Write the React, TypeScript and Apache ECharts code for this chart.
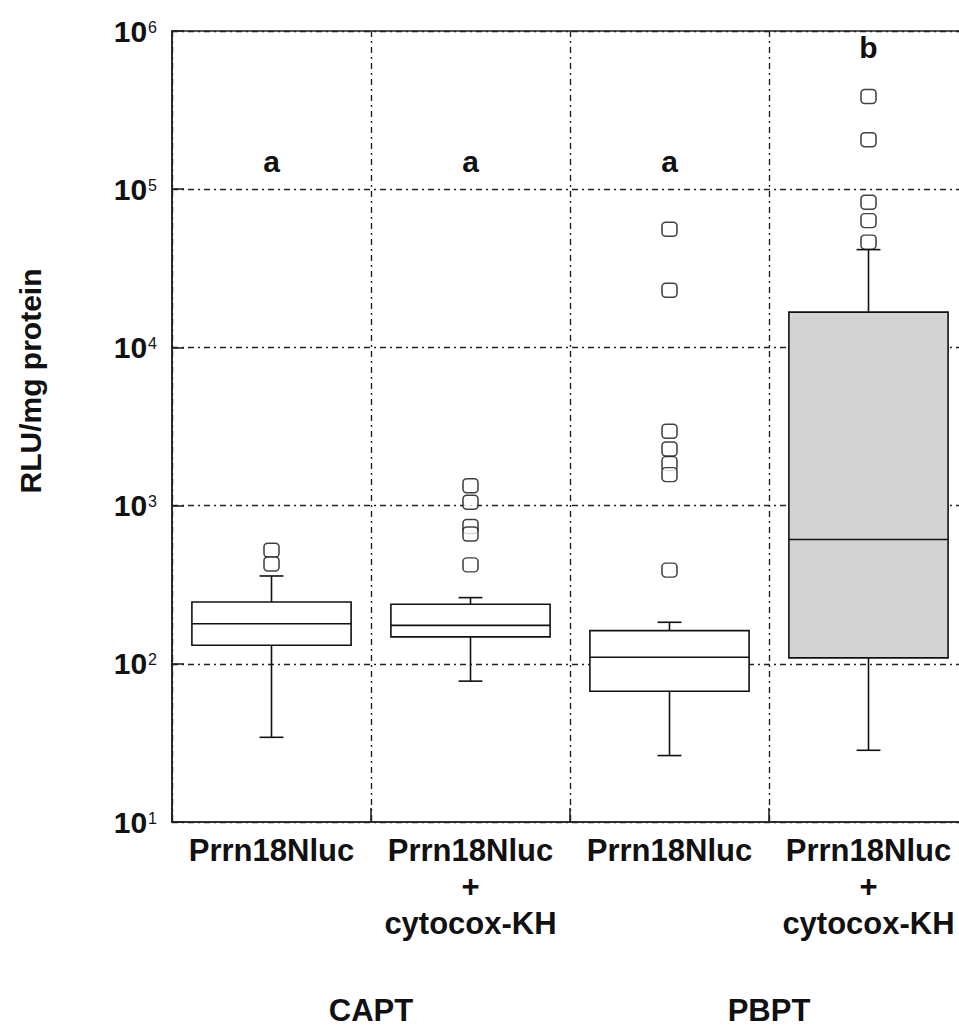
import React, { useEffect, useRef } from "react";
import * as echarts from "echarts";

const categories = [
  "Prrn18Nluc",
  "Prrn18Nluc\n+\ncytocox-KH",
  "Prrn18Nluc",
  "Prrn18Nluc\n+\ncytocox-KH",
];
const groups = ["CAPT", "PBPT"];
const lowWhisker = [34.3, 77.7, 26.3, 28.4];
const q1 = [131, 148, 67, 109];
const median = [179, 175, 110, 610];
const q3 = [246, 238, 162, 16700];
const highWhisker = [359, 262, 183, 41500];
const outliers = [
  [522, 427],
  [1334, 1049, 738, 661, 422],
  [55800, 22970, 2951, 2280, 1842, 1570, 391],
  [385000, 205600, 82800, 63300, 46300],
];
const boxFill = ["#ffffff", "#ffffff", "#ffffff", "#d3d3d3"];
const letters = ["a", "a", "a", "b"];
const letterPos = [150000, 150000, 150000, 789000];
const yTitle = "RLU/mg protein";

const FONT = "'Liberation Sans', Arial, Helvetica, sans-serif";
const INK = "#111111";

export default function App() {
  const ref = useRef<HTMLDivElement>(null);
  useEffect(() => {
    if (!ref.current) return;
    const chart = echarts.init(ref.current, null, { renderer: "svg" });
    const boxData = categories.map((_, i) => [
      i,
      lowWhisker[i],
      q1[i],
      median[i],
      q3[i],
      highWhisker[i],
    ]);
    const outlierData: number[][] = [];
    outliers.forEach((arr, i) => arr.forEach((v) => outlierData.push([i, v])));
    const letterData = letters.map((l, i) => ({ value: [i, letterPos[i]], name: l }));

    const option: any = {
      animation: false,
      grid: {
        left: 172,
        top: 31,
        width: 796,
        height: 797,
        show: true,
        borderColor: "#222",
        borderWidth: 1.6,
        backgroundColor: "transparent",
      },
      graphic: [
        {
          type: "text",
          x: 30,
          y: 381,
          rotation: Math.PI / 2,
          style: {
            text: yTitle,
            font: `bold 30px ${FONT}`,
            fill: INK,
            align: "center",
            verticalAlign: "middle",
          },
        },
      ],
      xAxis: [
        {
          type: "category",
          data: categories,
          boundaryGap: true,
          axisLine: { show: true, lineStyle: { color: "#222", width: 1.6 } },
          axisTick: { show: true, inside: true, length: 14, lineStyle: { color: "#222", width: 1.6 } },
          splitLine: {
            show: true,
            lineStyle: { color: "#222", width: 1.4, type: [6, 4, 2, 4] },
          },
          axisLabel: {
            interval: 0,
            margin: 10,
            color: INK,
            fontFamily: FONT,
            fontWeight: "bold",
            fontSize: 31,
            lineHeight: 36.5,
            align: "center",
          },
        },
        {
          type: "category",
          data: groups,
          position: "bottom",
          boundaryGap: true,
          axisLine: { show: false },
          axisTick: { show: false },
          splitLine: { show: false },
          axisLabel: {
            interval: 0,
            margin: 170,
            color: INK,
            fontFamily: FONT,
            fontWeight: "bold",
            fontSize: 31,
            lineHeight: 36,
          },
        },
      ],
      yAxis: {
        type: "log",
        logBase: 10,
        min: 10,
        max: 1000000,
        axisLine: { show: true, lineStyle: { color: "#222", width: 1.6 } },
        axisTick: { show: true, inside: true, length: 12, lineStyle: { color: "#222", width: 1.6 } },
        splitLine: {
          show: true,
          lineStyle: { color: "#222", width: 1.4, type: [6, 4, 2, 4] },
        },
        axisLabel: {
          margin: 15,
          formatter: (v: number) => `{b|10}{s|${Math.round(Math.log10(v))}}`,
          rich: {
            b: { fontSize: 30, fontWeight: "bold", fontFamily: FONT, color: INK },
            s: { fontSize: 16, fontFamily: FONT, color: INK, padding: [0, 0, 8, 1] },
          },
        },
      },
      series: [
        {
          type: "custom",
          xAxisIndex: 0,
          encode: { x: 0, y: [1, 2, 3, 4, 5] },
          data: boxData,
          z: 3,
          renderItem: (params: any, api: any) => {
            const i = api.value(0);
            const band = params.coordSys.width / categories.length;
            const boxW = band * 0.8;
            const capW = band * 0.12;
            const pLow = api.coord([i, api.value(1)]);
            const pQ1 = api.coord([i, api.value(2)]);
            const pMed = api.coord([i, api.value(3)]);
            const pQ3 = api.coord([i, api.value(4)]);
            const pHigh = api.coord([i, api.value(5)]);
            const cx = pMed[0];
            const ls = { stroke: INK, lineWidth: 1.6 };
            return {
              type: "group",
              children: [
                { type: "line", shape: { x1: cx, y1: pQ3[1], x2: cx, y2: pHigh[1] }, style: ls },
                { type: "line", shape: { x1: cx, y1: pQ1[1], x2: cx, y2: pLow[1] }, style: ls },
                { type: "line", shape: { x1: cx - capW / 2, y1: pHigh[1], x2: cx + capW / 2, y2: pHigh[1] }, style: ls },
                { type: "line", shape: { x1: cx - capW / 2, y1: pLow[1], x2: cx + capW / 2, y2: pLow[1] }, style: ls },
                {
                  type: "rect",
                  shape: { x: cx - boxW / 2, y: pQ3[1], width: boxW, height: pQ1[1] - pQ3[1] },
                  style: { fill: boxFill[i], stroke: INK, lineWidth: 1.6 },
                },
                { type: "line", shape: { x1: cx - boxW / 2, y1: pMed[1], x2: cx + boxW / 2, y2: pMed[1] }, style: ls },
              ],
            };
          },
        },
        {
          type: "scatter",
          xAxisIndex: 0,
          data: outlierData,
          symbol: "roundRect",
          symbolSize: [15, 14],
          z: 4,
          itemStyle: { color: "#ffffff", borderColor: INK, borderWidth: 1.5 },
        },
        {
          type: "scatter",
          xAxisIndex: 0,
          data: letterData,
          symbolSize: 1,
          z: 5,
          itemStyle: { color: "transparent", opacity: 1 },
          label: {
            show: true,
            position: "inside",
            formatter: (p: any) => p.name,
            color: INK,
            opacity: 1,
            textBorderWidth: 0,
            fontFamily: FONT,
            fontWeight: "bold",
            fontSize: 30,
          },
        },
      ],
    };
    chart.setOption(option);
    return () => chart.dispose();
  }, []);
  return (
    <div
      style={{
        position: "absolute",
        left: 0,
        top: 0,
        width: 959,
        height: 1028,
        overflow: "hidden",
      }}
    >
      <div ref={ref} style={{ width: 990, height: 1028 }} />
    </div>
  );
}
